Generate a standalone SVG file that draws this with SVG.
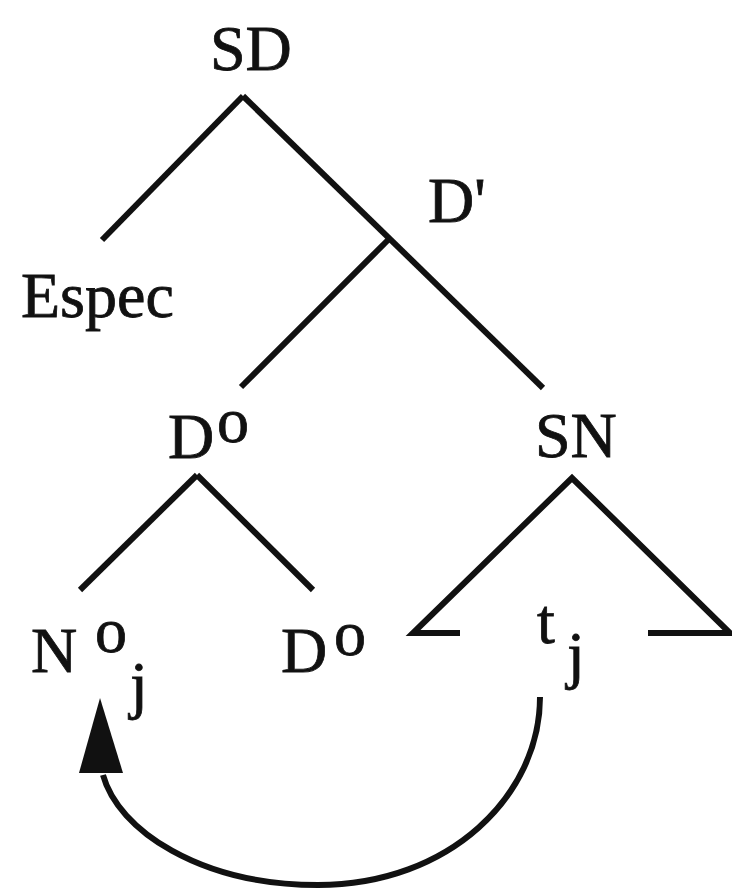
<svg xmlns="http://www.w3.org/2000/svg" width="732" height="888" viewBox="0 0 732 888">
<style>
  .lbl { font-family: "Liberation Serif", "Times New Roman", serif; font-size: 64px; fill: #111; stroke: #111; stroke-width: 0.8; }
  .edge { stroke: #111; stroke-width: 6; fill: none; stroke-linejoin: miter; }
  .move { stroke: #111; stroke-width: 6; fill: none; }
</style>
<rect width="732" height="888" fill="#ffffff"/>
<g id="connectors">
  <line class="edge" x1="243" y1="96" x2="102" y2="240"/>
  <line class="edge" x1="243" y1="96" x2="543" y2="388"/>
  <line class="edge" x1="388" y1="240" x2="241" y2="387"/>
  <line class="edge" x1="197" y1="475" x2="80" y2="590"/>
  <line class="edge" x1="197" y1="475" x2="313" y2="590"/>
  <polyline class="edge" points="460,633 413,633 572,478 730,633 648,633"/>
  <path class="move" d="M540,697 C540,795 450,885 318,885 C200,885 118,830 103,775"/>
  <polygon points="100,698 79,773 123,773" fill="#111"/>
</g>
<g id="node-SD"><text class="lbl" x="210" y="70">SD</text></g>
<g id="node-Dbar"><text class="lbl" x="428" y="222">D'</text></g>
<g id="node-Espec"><text class="lbl" x="21" y="317">Espec</text></g>
<g id="node-D0-top"><text class="lbl" x="168" y="458">D</text><text class="lbl" x="217" y="442">o</text></g>
<g id="node-SN"><text class="lbl" x="535" y="457">SN</text></g>
<g id="node-N0j"><text class="lbl" x="31" y="672">N</text><text class="lbl" x="95" y="652">o</text><text class="lbl" x="130" y="706">j</text></g>
<g id="node-D0-bottom"><text class="lbl" x="281" y="672">D</text><text class="lbl" x="334" y="655">o</text></g>
<g id="node-tj"><text class="lbl" x="537" y="643">t</text><text class="lbl" x="567" y="676">j</text></g>
</svg>
